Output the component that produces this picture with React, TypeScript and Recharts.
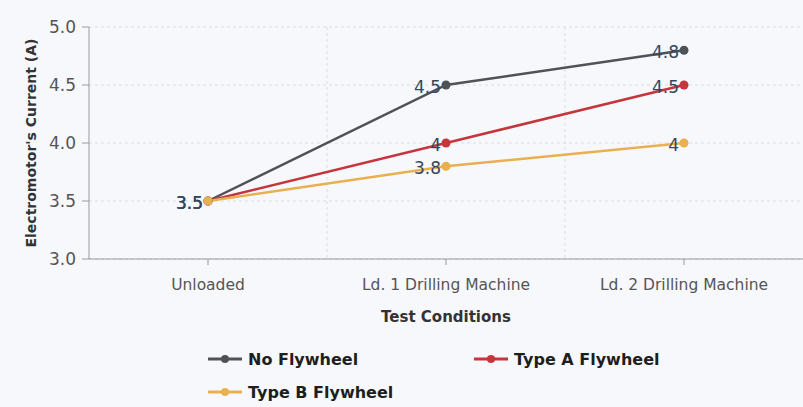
import React from 'react';
import { LineChart, Line, XAxis, YAxis, CartesianGrid, Legend, LabelList } from 'recharts';

const categories = ['Unloaded', 'Ld. 1 Drilling Machine', 'Ld. 2 Drilling Machine'];
const noFlywheel = [3.5, 4.5, 4.8];
const typeA = [3.5, 4.0, 4.5];
const typeB = [3.5, 3.8, 4.0];
const yTicks = [3.0, 3.5, 4.0, 4.5, 5.0];

const seriesDefs = [
  { key: 'noFlywheel', name: 'No Flywheel', color: '#4f5256', values: noFlywheel },
  { key: 'typeA', name: 'Type A Flywheel', color: '#c6343c', values: typeA },
  { key: 'typeB', name: 'Type B Flywheel', color: '#e9b04f', values: typeB },
];

const data = categories.map((c, i) => {
  const row: Record<string, string | number> = { name: c };
  seriesDefs.forEach((s) => {
    row[s.key] = s.values[i];
  });
  return row;
});

const FONT = '"DejaVu Sans", sans-serif';

const renderLegend = (props: any) => {
  const payload = (props.payload || []).filter((p: any) => p.type !== 'none');
  return (
    <div style={{ position: 'relative', height: 78, width: 803 }}>
      {payload.map((p: any, i: number) => {
        const col = i % 2;
        const row = Math.floor(i / 2);
        return (
          <div
            key={p.value}
            style={{
              position: 'absolute',
              left: 208 + col * 266,
              top: 20 + row * 33,
              height: 20,
              display: 'flex',
              alignItems: 'center',
            }}
          >
            <svg width={34} height={12} style={{ display: 'block' }}>
              <line x1={0} y1={6} x2={34} y2={6} stroke={p.color} strokeWidth={3} />
              <circle cx={17} cy={6} r={4} fill={p.color} />
            </svg>
            <span style={{ marginLeft: 6, fontFamily: FONT, fontWeight: 700, fontSize: 16, color: '#1e1e1e', whiteSpace: 'nowrap' }}>
              {p.value}
            </span>
          </div>
        );
      })}
    </div>
  );
};

export default function App() {
  return (
    <div style={{ position: 'absolute', left: 0, top: 0, width: 803, height: 407, background: '#f7f8fc' }}>
      <LineChart width={803} height={407} data={data} margin={{ top: 27, right: 0, bottom: 0, left: 0 }}>
        <CartesianGrid
          stroke="#d9dce3"
          strokeDasharray="3 3"
          verticalCoordinatesGenerator={(props: any) => {
            const o = props.offset;
            return [o.left + o.width / 3, o.left + (2 * o.width) / 3];
          }}
        />
        <XAxis
          dataKey="name"
          scale="band"
          stroke="#9a9a9a"
          tickSize={6}
          tickMargin={14}
          height={70}
          tick={{ fill: '#555', fontSize: 15.5, fontFamily: FONT }}
          label={{
            value: 'Test Conditions',
            position: 'insideBottom',
            offset: 7,
            style: { fontFamily: FONT, fontWeight: 700, fontSize: 15, fill: '#333' },
          }}
        />
        <YAxis
          domain={[3, 5]}
          ticks={yTicks}
          tickFormatter={(v: number) => v.toFixed(1)}
          width={89}
          stroke="#9a9a9a"
          tickSize={7}
          tickMargin={6}
          tick={{ fill: '#555', fontSize: 17, fontFamily: FONT }}
          label={{
            value: "Electromotor's Current (A)",
            angle: -90,
            position: 'insideLeft',
            offset: 31,
            style: { textAnchor: 'middle', fontFamily: FONT, fontWeight: 700, fontSize: 14, fill: '#333' },
          }}
        />
        {seriesDefs.map((s) => (
          <Line
            key={s.key + '-labels'}
            dataKey={s.key}
            stroke="none"
            dot={false}
            activeDot={false}
            legendType="none"
            isAnimationActive={false}
          >
            <LabelList
              dataKey={s.key}
              position="left"
              offset={5}
              dy={2}
              style={{ fill: '#34495e', fontSize: 17, fontFamily: FONT }}
            />
          </Line>
        ))}
        {seriesDefs.map((s) => (
          <Line
            key={s.key}
            dataKey={s.key}
            name={s.name}
            stroke={s.color}
            strokeWidth={2.5}
            dot={{ r: 4.5, fill: s.color, stroke: s.color, strokeWidth: 0 }}
            activeDot={false}
            isAnimationActive={false}
          />
        ))}
        <Legend verticalAlign="bottom" content={renderLegend} wrapperStyle={{ left: 0, bottom: 0, width: 803 }} />
      </LineChart>
    </div>
  );
}
